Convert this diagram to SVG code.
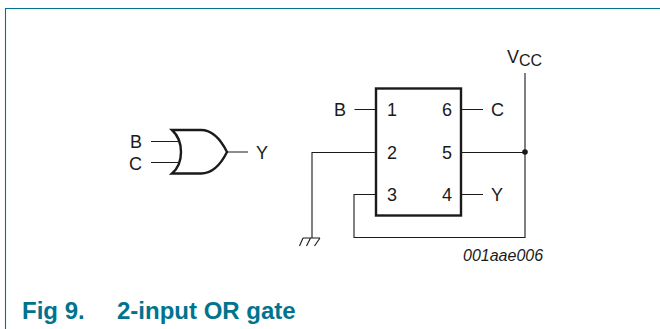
<svg xmlns="http://www.w3.org/2000/svg" width="660" height="329" viewBox="0 0 660 329">
<style>
text{font-family:"Liberation Sans",Arial,sans-serif;font-size:18px;fill:#1a1a1a}
.w{fill:none;stroke:#1a1a1a;stroke-width:1.1}
.b{fill:none;stroke:#1a1a1a;stroke-width:2.4}
.t{fill:#00748e;font-weight:bold;font-size:24px}
</style>
<rect width="660" height="329" fill="#fff"/>
<path d="M5.500 329V8.500H660" fill="none" stroke="#00748e" stroke-width="1.1"/>
<g id="connectors">
<path class="w" d="M151 141.500H178M151 162.500H178M227 152H248"/>
<path class="w" d="M354.500 109.500H375M462 109.500H483M462 194.500H483"/>
<path class="w" d="M375 152.500H312V238M462 152.500H525M525 73V237.500H354V194.500H375"/>
<circle cx="525" cy="152" r="2.800" fill="#1a1a1a"/>
<path class="w" d="M303 238H320M299.500 246L303 238M306.500 246L310.500 238M314.500 246L320 238"/>
</g>
<g id="or-gate">
<path class="b" d="M172 130H201C212 130 221 140 227 152C221 164 212 173.500 201 173.500H172C184 163 184 141 172 130Z"/>
<text x="130" y="148">B</text><text x="129" y="170">C</text><text x="256" y="159">Y</text>
</g>
<g id="ic">
<rect class="b" x="376" y="88.500" width="85" height="127"/>
<text x="387" y="116">1</text><text x="387" y="159">2</text><text x="387" y="201">3</text>
<text x="442" y="116">6</text><text x="442" y="159">5</text><text x="442" y="201">4</text>
</g>
<g id="labels">
<text x="334" y="116">B</text><text x="491" y="116">C</text><text x="491" y="201">Y</text>
<text x="507" y="63">V<tspan dy="3" style="font-size:16px">CC</tspan></text>
<text x="463" y="261" style="font-size:16px;font-style:italic">001aae006</text>
<text x="22" y="319" class="t">Fig 9.</text><text x="117" y="319" class="t">2-input OR gate</text>
</g>
</svg>
